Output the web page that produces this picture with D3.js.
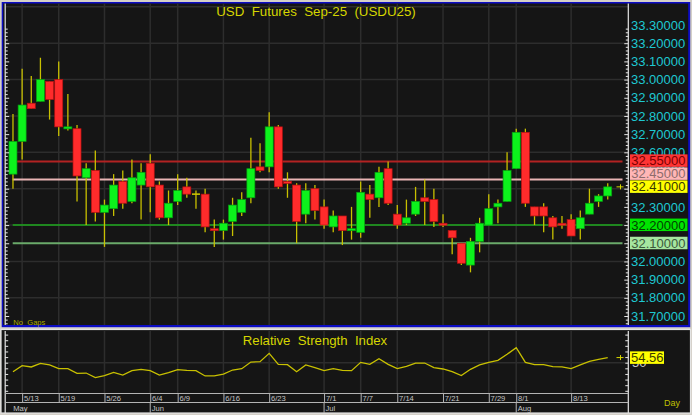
<!DOCTYPE html>
<html><head><meta charset="utf-8">
<script src="https://cdn.jsdelivr.net/npm/d3@7"></script>
<style>
html,body{margin:0;padding:0;background:#d4d0c8;overflow:hidden;}
svg{display:block;font-family:"Liberation Sans",Arial,sans-serif;}
</style></head><body>
<svg id="c" width="692" height="415"></svg>
<script>
// ---------------- DATA ----------------
const title = "USD  Futures  Sep-25  (USDU25)";
const rsiTitle = "Relative  Strength  Index";
const dates = ["5/12","5/13","5/14","5/15","5/16","5/19","5/20","5/21","5/22","5/23",
  "5/26","5/27","5/28","5/29","5/30","6/4","6/5","6/6","6/9","6/10",
  "6/11","6/12","6/13","6/16","6/17","6/18","6/19","6/20","6/23","6/24",
  "6/25","6/26","6/27","6/30","7/1","7/2","7/3","7/4","7/7","7/8",
  "7/9","7/11","7/14","7/15","7/16","7/17","7/18","7/21","7/22","7/23",
  "7/24","7/25","7/29","7/30","7/31","8/1","8/4","8/5","8/6","8/7",
  "8/8","8/13","8/14","8/15","8/18","8/19"];
const opens = [32.48,32.66,32.87,32.88,32.99,33.00,32.73,32.73,32.46,32.50,
  32.27,32.29,32.44,32.33,32.42,32.54,32.42,32.24,32.33,32.41,
  32.37,32.37,32.18,32.17,32.22,32.27,32.35,32.52,32.52,32.74,
  32.44,32.42,32.26,32.40,32.30,32.19,32.25,32.17,32.16,32.37,
  32.35,32.51,32.26,32.21,32.26,32.35,32.34,32.21,32.17,32.10,
  31.98,32.11,32.20,32.30,32.33,32.51,32.71,32.30,32.30,32.24,
  32.21,32.23,32.18,32.26,32.33,32.36];
const highs = [32.81,33.06,33.02,33.12,32.99,33.10,32.92,32.75,32.54,32.61,
  32.34,32.48,32.50,32.56,32.54,32.59,32.44,32.39,32.48,32.46,
  32.39,32.40,32.23,32.23,32.35,32.38,32.68,32.65,32.82,32.75,
  32.49,32.43,32.43,32.42,32.34,32.28,32.25,32.30,32.44,32.42,
  32.52,32.55,32.31,32.34,32.41,32.45,32.40,32.26,32.17,32.10,
  32.13,32.24,32.37,32.34,32.60,32.73,32.73,32.30,32.32,32.25,
  32.25,32.26,32.28,32.40,32.37,32.43];
const lows = [32.40,32.56,32.84,32.88,32.78,32.69,32.72,32.33,32.20,32.22,
  32.08,32.25,32.29,32.32,32.23,32.27,32.23,32.20,32.31,32.35,
  32.29,32.16,32.08,32.12,32.14,32.25,32.32,32.49,32.49,32.40,
  32.35,32.10,32.21,32.23,32.18,32.16,32.09,32.12,32.13,32.24,
  32.30,32.31,32.18,32.20,32.25,32.20,32.19,32.19,32.04,31.98,
  31.94,32.05,32.20,32.21,32.33,32.51,32.30,32.20,32.16,32.12,
  32.18,32.14,32.12,32.26,32.30,32.34];
const closes = [32.66,32.86,32.84,33.00,32.89,32.74,32.74,32.47,32.51,32.27,
  32.31,32.42,32.32,32.46,32.49,32.41,32.24,32.32,32.39,32.37,
  32.37,32.19,32.17,32.21,32.31,32.34,32.51,32.50,32.74,32.41,
  32.43,32.22,32.39,32.28,32.20,32.25,32.17,32.18,32.38,32.34,
  32.49,32.32,32.20,32.24,32.33,32.33,32.22,32.20,32.13,31.99,
  32.11,32.21,32.29,32.32,32.50,32.71,32.32,32.25,32.25,32.19,
  32.20,32.14,32.24,32.32,32.36,32.41];
const rsi = [42.0,47.4,46.2,49.4,48.0,44.7,44.7,40.5,40.8,36.7,
  38.5,41.4,39.0,42.9,44.1,42.9,39.0,41.1,43.8,43.2,
  42.9,38.2,38.2,39.9,43.5,44.7,50.6,50.9,58.3,48.5,
  48.2,42.0,48.0,45.6,42.9,44.7,43.2,42.9,50.3,48.5,
  53.6,48.5,44.7,46.8,49.7,49.7,45.6,44.4,42.0,38.5,
  44.1,48.0,50.3,52.1,57.5,63.4,50.3,48.2,48.2,46.5,
  46.2,44.7,48.0,51.2,53.0,54.56];
const tickDates = ["5/13","5/19","5/26","6/4","6/9","6/16","6/23","7/1","7/7","7/14","7/21","7/29","8/1","8/13"];
const monthStarts = ["5/12","6/4","7/1","8/1"];
const monthLabels = ["May","Jun","Jul","Aug"];
const priceLabels = [31.7,31.8,31.9,32.0,32.1,32.2,32.3,32.4,32.5,32.6,32.7,32.8,32.9,33.0,33.1,33.2,33.3];
const gridPrices = [31.8,32.0,32.2,32.4,32.6,32.8,33.0,33.2,33.4];
const levelValues = [32.55,32.45,32.20,32.10];
const lastPrice = 32.41;
const rsiTicks = [25,30,35,40,45,50,55,60,65,70,75];
const rsiGrid = [50];
const rsiLast = 54.56;

// ---------------- DRAW ----------------
const svg = d3.select("#c");
const DARK = "#151515", GRID = "#2d2d2d", AXIS = "#e6e6e6";
const YEL = "#d6d600", WICK = "#c8c000";
const x = d3.scalePoint().domain(dates).range([8.4, 612.3]).padding(0.5);
const y = d3.scaleLinear().domain([31.7, 33.3]).range([316, 25]);
const yR = d3.scaleLinear().domain([25, 75]).range([390.8, 334.6]);

// background panels
svg.append("rect").attr("x",0).attr("y",0).attr("width",692).attr("height",415).attr("fill","#d4d0c8");
svg.append("rect").attr("x",1.7).attr("y",2).attr("width",688.5).attr("height",325.2).attr("fill","#0c0cc4");
svg.append("rect").attr("x",3.2).attr("y",3.5).attr("width",685).attr("height",321.5).attr("fill",DARK);
svg.append("rect").attr("x",1).attr("y",329.5).attr("width",689.5).attr("height",83.5)
  .attr("fill",DARK).attr("stroke","#e4e4e4").attr("stroke-width",1.2);

const main = svg.append("g");
// horizontal grid
main.selectAll("line.hg").data(gridPrices).join("line")
  .attr("x1",5.5).attr("x2",628).attr("y1",d=>y(d)).attr("y2",d=>y(d))
  .attr("stroke",GRID).attr("stroke-width",1.5);
// vertical grid
main.selectAll("line.vg").data(tickDates).join("line")
  .attr("x1",d=>x(d)).attr("x2",d=>x(d)).attr("y1",3.5).attr("y2",325)
  .attr("stroke",GRID).attr("stroke-width",1.5);

// level lines
const levelStyle = {
  "32.55": {line:"#b22222", bg:"#ff3434", fg:"#7a0000", w:2},
  "32.45": {line:"#e8b4b4", bg:"#ffb6b6", fg:"#8e6c6c", w:2},
  "32.2":  {line:"#1ea81e", bg:"#00e400", fg:"#004400", w:1.6},
  "32.1":  {line:"#6aaa6a", bg:"#a6e6a0", fg:"#3c5a3c", w:2}
};
main.selectAll("line.lv").data(levelValues).join("line")
  .attr("x1",12.7).attr("x2",622.5).attr("y1",d=>y(d)).attr("y2",d=>y(d))
  .attr("stroke",d=>levelStyle[String(d)].line).attr("stroke-width",d=>levelStyle[String(d)].w);

// candles
const ohlc = dates.map((d,i)=>({d,o:opens[i],h:highs[i],l:lows[i],c:closes[i]}));
const cg = main.append("g");
cg.selectAll("line.wick").data(ohlc).join("line")
  .attr("x1",d=>x(d.d)).attr("x2",d=>x(d.d)).attr("y1",d=>y(d.h)).attr("y2",d=>y(d.l))
  .attr("stroke",WICK).attr("stroke-width",1.3);
cg.selectAll("rect.body").data(ohlc.filter(d=>Math.abs(d.c-d.o)>=0.004)).join("rect")
  .attr("x",d=>x(d.d)-4).attr("width",8)
  .attr("y",d=>y(Math.max(d.o,d.c)))
  .attr("height",d=>Math.max(2,Math.abs(y(d.o)-y(d.c))))
  .attr("fill",d=>d.c>d.o?"#0cf21c":"#ff2b2b")
  .attr("stroke",d=>d.c>d.o?"#05a010":"#b81010").attr("stroke-width",0.7);
cg.selectAll("line.doji").data(ohlc.filter(d=>Math.abs(d.c-d.o)<0.004)).join("line")
  .attr("x1",d=>x(d.d)-4).attr("x2",d=>x(d.d)+4).attr("y1",d=>y(d.c)).attr("y2",d=>y(d.c))
  .attr("stroke",WICK).attr("stroke-width",1.6);

// axes (left & right) with minor ticks
const minorP = d3.range(0, 82).map(k=>+(31.66 + k*0.02).toFixed(2)).filter(v=>y(v)>4 && y(v)<325);
const leftAx = d3.axisRight(y).tickValues(minorP).tickSize(2.5).tickFormat("");
const gL = main.append("g").attr("transform","translate(5.2,0)").call(leftAx);
gL.selectAll("line").attr("stroke",AXIS).attr("x2",d=>Math.abs(d*10-Math.round(d*10))<0.01?4:2.5);
gL.select(".domain").attr("stroke",AXIS).attr("stroke-width",1.2).attr("d","M0,3.5V325");
const rightAx = d3.axisLeft(y).tickValues(minorP).tickSize(2.5).tickFormat("");
const gRt = main.append("g").attr("transform","translate(628.3,0)").call(rightAx);
gRt.selectAll("line").attr("stroke",AXIS).attr("x2",d=>Math.abs(d*10-Math.round(d*10))<0.01?-4:-2.5);
gRt.select(".domain").attr("stroke",AXIS).attr("stroke-width",1.2).attr("d","M0,3.5V325");

// price labels
const labAx = d3.axisRight(y).tickValues(priceLabels).tickSize(0).tickPadding(0).tickFormat(d=>d.toFixed(5));
const gLab = main.append("g").attr("transform","translate(631,0)").call(labAx);
gLab.select(".domain").remove();
gLab.selectAll("text").attr("fill","#1ec8d2").attr("font-size",13).attr("font-family","Liberation Sans, Arial, sans-serif");

// level label boxes with stacking
const boxes = levelValues.map(v=>({v, kind:String(v)})).concat([{v:lastPrice, kind:"last"}])
  .sort((a,b)=>a.v-b.v);
let prevTop = 1e9;
boxes.forEach(b=>{
  let top = y(b.v)-6.5, bot = top+12.5;
  if (bot > prevTop-0.5) { bot = prevTop-0.5; top = bot-12.5; }
  b.top = top; prevTop = top;
});
const lastStyle = {bg:"#ffff00", fg:"#3a3a00"};
const bg = main.selectAll("g.box").data(boxes).join("g");
bg.append("rect").attr("x",630).attr("width",57.5).attr("y",d=>d.top).attr("height",12.5)
  .attr("fill",d=>d.kind==="last"?lastStyle.bg:levelStyle[d.kind].bg);
bg.append("text").attr("x",631.2).attr("y",d=>d.top+11).attr("font-size",13)
  .attr("fill",d=>d.kind==="last"?lastStyle.fg:levelStyle[d.kind].fg)
  .text(d=>d.v.toFixed(5));

// last price marker
main.append("path").attr("d",`M616.5,${y(lastPrice)}h7M620.5,${y(lastPrice)-2.5}v5`)
  .attr("stroke",YEL).attr("stroke-width",1).attr("fill","none");

// title & notes
main.append("text").attr("x",316).attr("y",15.6).attr("text-anchor","middle").attr("font-size",13.3)
  .attr("fill",YEL).attr("xml:space","preserve").style("white-space","pre").text(title);
main.append("text").attr("x",13.3).attr("y",324.6).attr("font-size",7.6).attr("fill","#a8a800")
  .style("white-space","pre").text("No  Gaps");

// ---------------- RSI panel ----------------
const rg = svg.append("g");
rg.selectAll("line.rg").data(rsiGrid).join("line")
  .attr("x1",5.5).attr("x2",628).attr("y1",d=>yR(d)).attr("y2",d=>yR(d))
  .attr("stroke",GRID).attr("stroke-width",1.5);
rg.selectAll("line.rvg").data(tickDates).join("line")
  .attr("x1",d=>x(d)).attr("x2",d=>x(d)).attr("y1",331).attr("y2",393.5)
  .attr("stroke",GRID).attr("stroke-width",1.5);
rg.append("text").attr("x",315).attr("y",345).attr("text-anchor","middle").attr("font-size",13.2)
  .attr("fill",YEL).style("white-space","pre").text(rsiTitle);
rg.append("path").datum(rsi)
  .attr("d",d3.line().x((d,i)=>x(dates[i])).y(d=>yR(d)))
  .attr("fill","none").attr("stroke",WICK).attr("stroke-width",1.3);

const rL = rg.append("g").attr("transform","translate(5.2,0)").call(d3.axisRight(yR).tickValues(rsiTicks).tickSize(3).tickFormat(""));
rL.selectAll("line").attr("stroke",AXIS);
rL.select(".domain").attr("stroke",AXIS).attr("stroke-width",1.2).attr("d","M0,331V413");
const rR = rg.append("g").attr("transform","translate(628.3,0)").call(d3.axisLeft(yR).tickValues(rsiTicks).tickSize(3).tickFormat(""));
rR.selectAll("line").attr("stroke",AXIS);
rR.select(".domain").attr("stroke",AXIS).attr("stroke-width",1.2).attr("d","M0,331V413");

rg.selectAll("text.r50").data(rsiGrid).join("text").attr("x",632).attr("y",d=>yR(d)+4.7)
  .attr("font-size",13).attr("fill","#c8c8c8").text(d=>d);
rg.append("rect").attr("x",630).attr("y",yR(rsiLast)-6.2).attr("width",34).attr("height",12.5).attr("fill","#ffff00");
rg.append("text").attr("x",631).attr("y",yR(rsiLast)+4.6).attr("font-size",13).attr("fill","#3a3a00").text(rsiLast.toFixed(2));
rg.append("path").attr("d",`M616.5,${yR(rsiLast)}h7M620.5,${yR(rsiLast)-2.5}v5`)
  .attr("stroke",YEL).attr("stroke-width",1).attr("fill","none");

// ---------------- date axis ----------------
const da = svg.append("g");
[393.5,402.5].forEach(yy=>da.append("line").attr("x1",5.2).attr("x2",628.3).attr("y1",yy).attr("y2",yy)
  .attr("stroke","#b4b4b4").attr("stroke-width",1));
const xAx = d3.axisBottom(x).tickValues(tickDates).tickSize(9).tickPadding(0).tickFormat("");
const gx = da.append("g").attr("transform","translate(0,393.5)").call(xAx);
gx.select(".domain").remove();
gx.selectAll("line").attr("stroke","#b4b4b4");
da.selectAll("text.dl").data(tickDates).join("text")
  .attr("x",d=>x(d)+1.8).attr("y",401.3).attr("font-size",7.6).attr("fill","#c4c4c4").text(d=>d);
da.selectAll("line.ml").data(monthStarts.slice(1)).join("line")
  .attr("x1",d=>x(d)).attr("x2",d=>x(d)).attr("y1",402.5).attr("y2",413)
  .attr("stroke","#b4b4b4").attr("stroke-width",1);
da.selectAll("text.ml").data(monthStarts).join("text")
  .attr("x",(d,i)=>i===0?x(d)+0.3:x(d)+1.5).attr("y",410.8).attr("font-size",7.6).attr("fill","#c4c4c4")
  .text((d,i)=>monthLabels[i]);
da.append("text").attr("x",664).attr("y",405.5).attr("font-size",9).attr("fill","#c0c000").text("Day");
</script>
</body></html>
